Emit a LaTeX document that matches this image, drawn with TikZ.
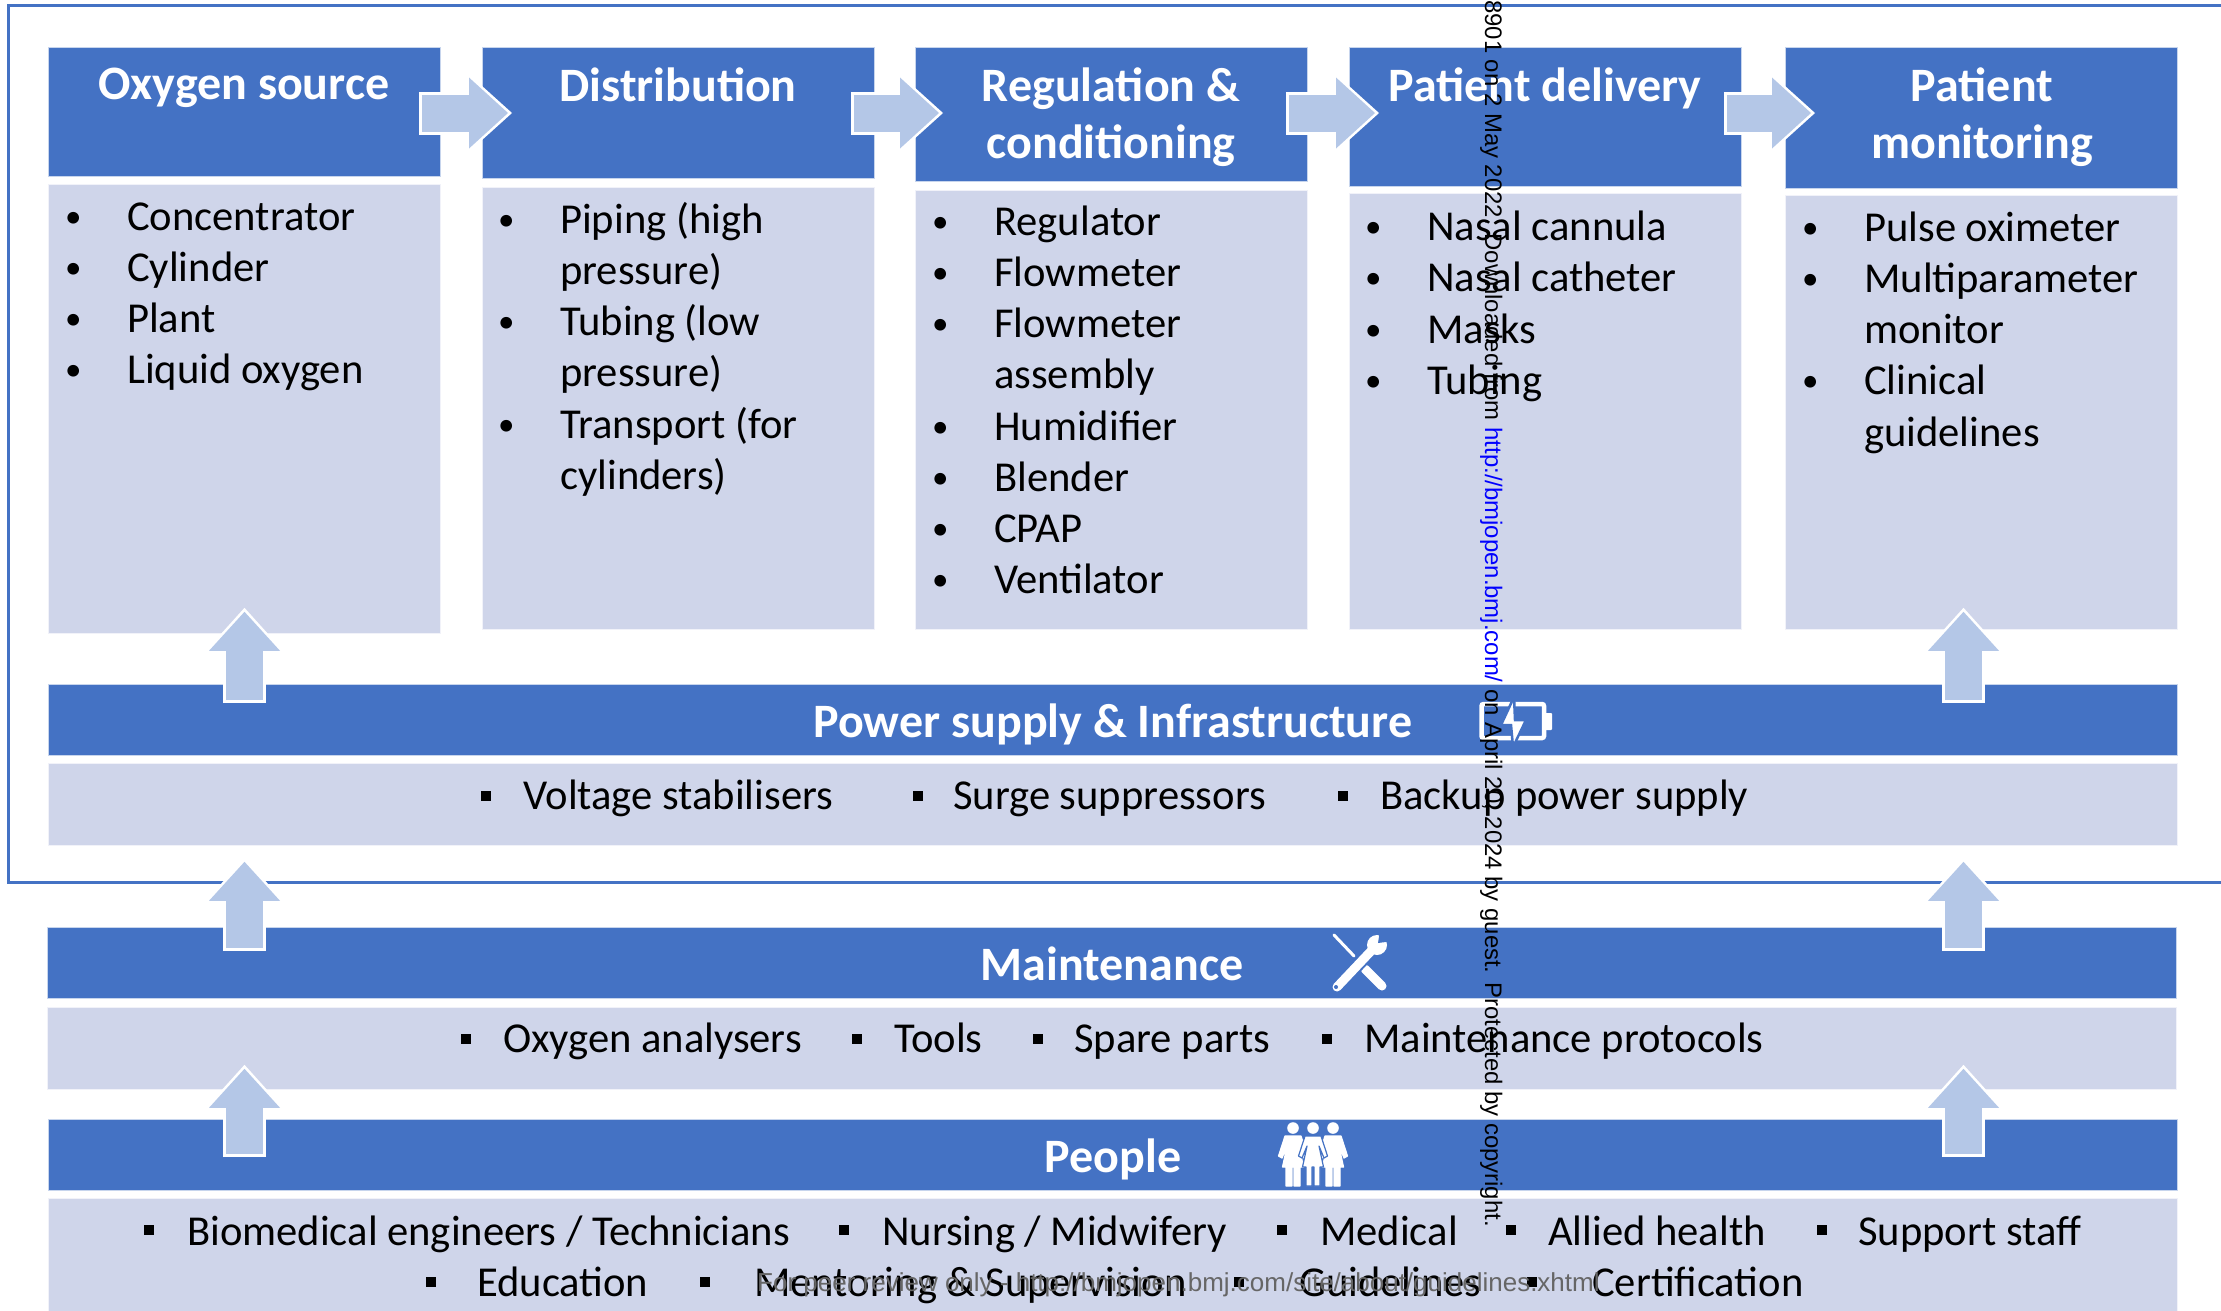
\documentclass[tikz,border=0pt]{standalone}
\usepackage{fontspec}
\setmainfont{Carlito}
\newfontfamily\wmfont{Liberation Sans}
\usetikzlibrary{arrows.meta}
\definecolor{hdblue}{HTML}{4472C4}
\definecolor{bdblue}{HTML}{CFD5EA}
\definecolor{arblue}{HTML}{B4C7E7}
\newcommand{\itm}{\makebox[53pt][l]{\hspace*{-9pt}\raisebox{3pt}{\fontsize{33}{33}\selectfont •}}}
\newcommand{\ind}{\hspace*{53pt}}
\newcommand{\topstrut}{\rule{0pt}{30pt}}
\newcommand{\personicon}[2]{
  \fill[white,draw=#2,line width=1.2pt,line join=round,shift={(#1,0)}]
  (-8,1136) -- (8,1136) -- (14.5,1156) -- (11,1158) -- (6,1146) -- (10.5,1167)
  -- (7,1167) -- (7,1186) -- (1,1186) -- (1,1167) -- (-1,1167) -- (-1,1186)
  -- (-7,1186) -- (-7,1167) -- (-10.5,1167) -- (-6,1146) -- (-11,1158)
  -- (-14.5,1156) -- cycle;
  \fill[white] (#1,1128) circle (5.8);
}
\tikzset{
  boxbase/.style={anchor=north west,inner sep=0pt,minimum width=392pt,draw=white!70!#1,line width=0.8pt,fill=#1},
  hdbox/.style={boxbase=hdblue},
  bdbox/.style={boxbase=bdblue},
  bandbox/.style={boxbase=hdblue,minimum width=2129pt,minimum height=71pt,text=white,text height=36pt,text depth=0pt,font=\fontsize{48}{54}\bfseries\selectfont},
  subbox/.style={boxbase=bdblue,minimum width=2129pt},
  titletext/.style={text=white,font=\fontsize{48}{56.5}\bfseries\selectfont,align=center,anchor=north,inner sep=0pt},
  listtext/.style={anchor=north west,inner sep=0pt,align=left,font=\fontsize{42.6}{51.2}\selectfont},
  rowtext/.style={anchor=base west,inner sep=0pt,font=\fontsize{42.6}{50}\selectfont},
  sqbullet/.style={fill=black,inner sep=0pt,minimum size=10pt},
  blockarrow/.style 2 args={arblue,line width=37pt,shorten <=-#1pt,shorten >=-#2pt,
    -{Triangle[length=39pt,width=71pt,line width=0pt]},
    preaction={draw=white,line width=43pt,shorten <=-#1pt-3pt,shorten >=-#2pt-4pt,
      -{Triangle[length=46pt,width=83pt,line width=0pt]}}},
  wmtext/.style={inner sep=0pt,font=\wmfont\fontsize{23.9}{30}\selectfont},
  wmfoot/.style={inner sep=0pt,text=black!60,font=\wmfont\fontsize{26}{30}\selectfont},
  toolline/.style={white,line cap=round}
}
\begin{document}
\begin{tikzpicture}[x=1pt,y=-1pt]
  \clip (0,0) rectangle (2221,1310);
  \draw[hdblue,line width=3pt] (8,5) rectangle (2240,882);

  % top row
  \node[hdbox,minimum height=129pt] (hdOxy) at (48,47) {};
  \node[hdbox,minimum height=131pt] (hdDist) at (482,47) {};
  \node[hdbox,minimum height=134pt] (hdReg) at (915,47) {};
  \node[hdbox,minimum height=139pt] (hdDel) at (1349,47) {};
  \node[hdbox,minimum height=141pt] (hdMon) at (1785,47) {};
  \node[bdbox,minimum height=449pt] (bdOxy) at (48,184) {};
  \node[bdbox,minimum height=442pt] (bdDist) at (482,187) {};
  \node[bdbox,minimum height=439pt] (bdReg) at (915,190) {};
  \node[bdbox,minimum height=436pt] (bdDel) at (1349,193) {};
  \node[bdbox,minimum height=434pt] (bdMon) at (1785,195) {};

  % bands
  \node[bandbox] (bandPower) at (48,684) {Power supply \& Infrastructure};
  \node[subbox,minimum height=82pt] (subPower) at (48,763) {};
  \node[bandbox] (bandMaint) at (47,927) {Maintenance};
  \node[subbox,minimum height=82pt] (subMaint) at (47,1007) {};
  \node[bandbox] (bandPeople) at (48,1119) {People};
  \node[subbox,minimum height=116pt] (subPeople) at (48,1198) {};

  % arrows
  \coordinate (rowY) at (0,113);
  \coordinate (colL) at (244.5,0);
  \coordinate (colR) at (1963.5,0);
  \draw[blockarrow={19}{26}] (hdOxy.east |- rowY) -- (hdDist.west |- rowY);
  \draw[blockarrow={21}{24}] (hdDist.east |- rowY) -- (hdReg.west |- rowY);
  \draw[blockarrow={19}{26}] (hdReg.east |- rowY) -- (hdDel.west |- rowY);
  \draw[blockarrow={15}{26}] (hdDel.east |- rowY) -- (hdMon.west |- rowY);
  \draw[blockarrow={16}{22}] (bandPower.north -| colL) -- (bdOxy.south -| colL);
  \draw[blockarrow={16}{18}] (bandPower.north -| colR) -- (bdMon.south -| colR);
  \foreach \c in {colL,colR} {
    \draw[blockarrow={21}{-16}] (bandMaint.north -| \c) -- (subPower.south -| \c);
    \draw[blockarrow={35}{21}] (bandPeople.north -| \c) -- (subMaint.south -| \c);
  }

  % titles
  \node[titletext] (ttOxy) at (244,68) {Oxygen source};
  \node[titletext] (ttDist) at (678,68) {Distribution};
  \node[titletext] (ttReg) at (1111,68) {Regulation \&\\conditioning};
  \node[titletext] (ttDel) at (1545,68) {Patient delivery};
  \node[titletext] (ttMon) at (1982,68) {Patient\\monitoring};

  % lists
  \node[listtext] (lsOxy) at (74,200) {\topstrut\itm Concentrator\\\itm Cylinder\\\itm Plant\\\itm Liquid oxygen};
  \node[listtext] (lsDist) at (507,202) {\topstrut\itm Piping (high\\\ind pressure)\\\itm Tubing (low\\\ind pressure)\\\itm Transport (for\\\ind cylinders)};
  \node[listtext] (lsReg) at (941,205) {\topstrut\itm Regulator\\\itm Flowmeter\\\itm Flowmeter\\\ind assembly\\\itm Humidifier\\\itm Blender\\\itm CPAP\\\itm Ventilator};
  \node[listtext] (lsDel) at (1374,210.5) {\topstrut\itm Nasal cannula\\\itm Nasal catheter\\\itm Masks\\\itm Tubing};
  \node[listtext] (lsMon) at (1811,211) {\topstrut\itm Pulse oximeter\\\itm Multiparameter\\\ind monitor\\\itm Clinical\\\ind guidelines};

  % band items
  \foreach \bx/\tx/\lbl in {486/523/Voltage stabilisers,918/953/Surge suppressors,1343/1380/Backup power supply} {
    \node[sqbullet] (bp\bx) at (\bx,796) {};
    \node[rowtext] (tp\tx) at (\tx,809.5) {\lbl};
  }
  \foreach \bx/\tx/\lbl in {466/503/Oxygen analysers,857/894/Tools,1038/1074/Spare parts,1327/1364/Maintenance protocols} {
    \node[sqbullet] (bm\bx) at (\bx,1039) {};
    \node[rowtext] (tm\tx) at (\tx,1052.5) {\lbl};
  }
  \foreach \bx/\tx/\lbl in {149/187/{Biomedical engineers / Technicians},844/882/{Nursing / Midwifery},1282/1320/Medical,1511/1548/Allied health,1822/1858/Support staff} {
    \node[sqbullet] (bq\bx) at (\bx,1230) {};
    \node[rowtext] (tq\tx) at (\tx,1245.5) {\lbl};
  }
  \foreach \bx/\tx/\lbl in {431/477/Education,705/754/Mentoring \& Supervision,1239/1299/Guidelines,1532/1592/Certification} {
    \node[sqbullet] (br\bx) at (\bx,1282) {};
    \node[rowtext] (tr\tx) at (\tx,1296) {\lbl};
  }

  % battery
  \draw[white,line width=4.5pt,rounded corners=2pt] (1481.5,704) rectangle (1544,738);
  \fill[white,rounded corners=1pt] (1544,713) rectangle (1552,730);
  \fill[white,draw=hdblue,line width=2.5pt,line join=miter] (1514,697) -- (1501,725) -- (1511,725) -- (1513,747) -- (1526,720) -- (1515,720) -- cycle;

  % tools
  \draw[toolline,line width=3pt] (1334,935) -- (1354,956);
  \draw[toolline,line width=9pt] (1365,969) -- (1382,986);
  \draw[hdblue,line width=13pt] (1336,988) -- (1372,950);
  \draw[toolline,line width=9pt] (1337,987) -- (1372,950);
  \fill[white] (1377,945) circle (10);
  \fill[hdblue] (1378,943) -- (1380,930) -- (1393,930) -- (1393,941) -- cycle;
  \fill[hdblue] (1336,987) circle (2);

  % people
  \personicon{1293}{white}
  \personicon{1333}{white}
  \personicon{1313}{hdblue}

  % margin notes
  \node[wmtext,rotate=-90,anchor=base west] (wmSide) at (1485,0) {8901 on 2 May 2022. Downloaded from \textcolor{blue}{http://bmjopen.bmj.com/} on April 20, 2024 by guest. Protected by copyright.};
  \node[wmfoot,anchor=base west] (wmFoot) at (757,1291) {For peer review only - http://bmjopen.bmj.com/site/about/guidelines.xhtml};
\end{tikzpicture}
\end{document}
